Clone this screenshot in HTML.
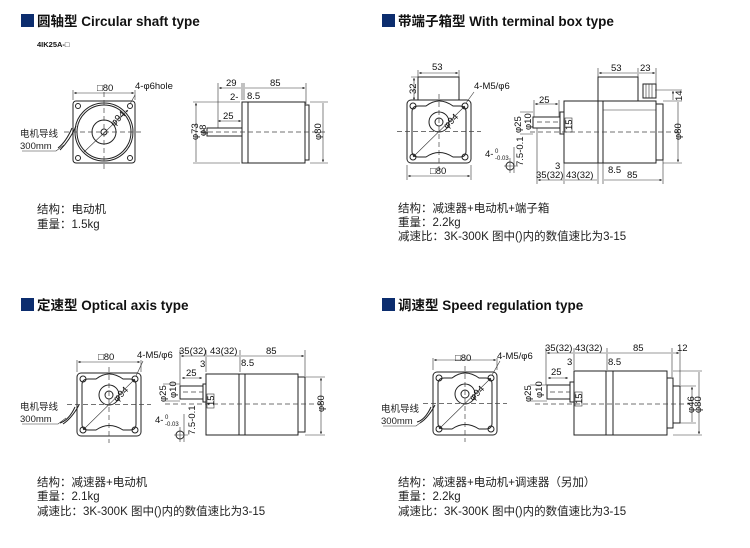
<!DOCTYPE html>
<html><head><meta charset="utf-8"><style>
html,body{margin:0;padding:0;background:#fff;width:750px;height:548px;overflow:hidden}
svg{display:block}
.t{font-family:"Liberation Sans","Noto Sans CJK SC",sans-serif;font-weight:bold;font-size:13.5px;fill:#111}
.d{font-family:"Liberation Sans",sans-serif;font-size:9.5px;fill:#111}
.c{font-family:"Liberation Sans","Noto Sans CJK SC",sans-serif;font-size:11.5px;fill:#222}
.l{stroke:#222;stroke-width:1;fill:none}
.b{stroke:#222;stroke-width:1;fill:#fff}
.th{stroke:#333;stroke-width:0.6;fill:none}
.da{stroke:#444;stroke-width:0.7;stroke-dasharray:5 3;fill:none}
</style></head><body>
<svg width="750" height="548" viewBox="0 0 750 548" xmlns="http://www.w3.org/2000/svg">
<defs>
<marker id="a" viewBox="0 0 6 6" refX="6" refY="3" markerWidth="4" markerHeight="4" orient="auto-start-reverse"><path d="M0,0L6,3L0,6z" fill="#222"/></marker>
<g id="fv">
 <rect x="0" y="0" width="64" height="63" rx="4" class="b" stroke-width="1.3"/>
 <path d="M5,12 Q5,6 11,6 L19,6 Q32,-4 46,6 L53,6 Q59,6 59,12 L59,51 Q59,57 53,57 L46,57 Q32,48 19,57 L11,57 Q5,57 5,51 Z" class="l"/>
 <circle cx="6" cy="6" r="3" class="l"/><circle cx="58" cy="6" r="3" class="l"/>
 <circle cx="6" cy="57" r="3" class="l"/><circle cx="58" cy="57" r="3" class="l"/>
 <circle cx="32" cy="22" r="10" class="l"/><circle cx="32" cy="22" r="4" class="l"/>
 <path d="M6,57 L58,6" class="th" marker-end="url(#a)" marker-start="url(#a)"/>
 <path d="M-10,31.5 H74 M32,-6 V70" class="da"/>
 <text x="37" y="28" class="d" transform="rotate(-45 40 25)">φ94</text>
</g>
</defs>

<rect x="21" y="14" width="13" height="13" fill="#0c2d6e"/>
<text x="37" y="26" class="t">圆轴型 Circular shaft type</text>
<text x="37" y="47" class="t" style="font-size:7.5px">4IK25A-□</text>
<rect x="382" y="14" width="13" height="13" fill="#0c2d6e"/>
<text x="398" y="26" class="t">带端子箱型 With terminal box type</text>
<rect x="21" y="298" width="13" height="13" fill="#0c2d6e"/>
<text x="37" y="310" class="t">定速型 Optical axis type</text>
<rect x="382" y="298" width="13" height="13" fill="#0c2d6e"/>
<text x="398" y="310" class="t">调速型 Speed regulation type</text>

<rect x="73" y="101" width="62" height="62" rx="3" class="b" stroke-width="1.3"/>
<circle cx="104" cy="132" r="29" class="l"/><circle cx="104" cy="132" r="27" class="l"/>
<circle cx="104" cy="132" r="12" class="l"/><circle cx="104" cy="132" r="3" class="l"/>
<circle cx="78" cy="106" r="2.5" class="l"/><circle cx="130" cy="106" r="2.5" class="l"/>
<circle cx="78" cy="158" r="2.5" class="l"/><circle cx="130" cy="158" r="2.5" class="l"/>
<path d="M64,132 H144 M104,92 V172" class="da"/>
<path d="M84,152 L128,110" class="th" marker-end="url(#a)"/>
<text x="110" y="125" class="d" transform="rotate(-45 114 121)">φ94</text>
<path d="M73,90 V100 M135,90 V100" class="th"/>
<path d="M74,93 H134" class="th" marker-end="url(#a)" marker-start="url(#a)"/>
<text x="97" y="91" class="d">□80</text>
<text x="135" y="89" class="d">4-φ6hole</text>
<path d="M135,95 L130,104" class="th"/>
<path d="M76,126 Q70,140 60,150 M72,128 Q66,142 58,148" class="l"/>
<text x="20" y="137" class="c" style="font-size:9.5px">电机导线</text>
<text x="20" y="149" class="c" style="font-size:9.5px">300mm</text>
<path d="M22,151 H56 L64,145" class="th"/>
<rect x="242" y="102" width="6" height="61" class="b"/>
<rect x="248" y="102" width="57" height="61" class="b"/>
<rect x="305" y="105" width="4" height="55" class="b"/>
<rect x="207" y="128" width="35" height="8" class="b"/>
<path d="M200,132 H325" class="da"/>
<path d="M218,83 V128 M242,83 V100 M244,83 V100 M306,83 V104" class="th"/>
<path d="M219,88 H241 M245,88 H305" class="th" marker-end="url(#a)" marker-start="url(#a)"/>
<text x="226" y="86" class="d">29</text><text x="270" y="86" class="d">85</text>
<text x="230" y="100" class="d">2-</text><text x="247" y="99" class="d">8.5</text>
<path d="M218,121 H241" class="th" marker-end="url(#a)" marker-start="url(#a)"/>
<text x="223" y="119" class="d">25</text>
<path d="M193,102 H240 M193,163 H240 M310,102 H328 M310,163 H328" class="th"/>
<path d="M196,103 V162 M323,103 V162" class="th" marker-end="url(#a)" marker-start="url(#a)"/>
<path d="M204,128 V136" class="th"/>
<text x="198" y="140" class="d" transform="rotate(-90 198 140)">φ73</text>
<text x="206" y="136" class="d" transform="rotate(-90 206 136)">φ8</text>
<text x="321" y="140" class="d" transform="rotate(-90 321 140)">φ80</text>
<text x="37" y="213" class="c">结构：电动机</text>
<text x="37" y="228" class="c">重量：1.5kg</text>

<rect x="418" y="77" width="41" height="24" class="b"/>
<use href="#fv" x="407" y="100"/>
<path d="M418,70 V77 M459,70 V77 M411,77 H418" class="th"/>
<path d="M419,73 H458" class="th" marker-end="url(#a)" marker-start="url(#a)"/>
<text x="432" y="70" class="d">53</text>
<path d="M414,78 V100" class="th" marker-end="url(#a)" marker-start="url(#a)"/>
<text x="416" y="94" class="d" transform="rotate(-90 416 94)">32</text>
<text x="474" y="89" class="d">4-M5/φ6</text>
<path d="M474,92 L466,103" class="th"/>
<path d="M407,165 V180 M471,165 V180" class="th"/>
<path d="M408,176 H470" class="th" marker-end="url(#a)" marker-start="url(#a)"/>
<text x="430" y="174" class="d">□80</text>
<text x="485" y="157" class="d">4-</text>
<text x="495" y="153" class="d" style="font-size:6px">0</text>
<text x="495" y="160" class="d" style="font-size:6px">-0.03</text>
<circle cx="510" cy="166" r="4" class="l"/><path d="M504,166 H518 M510,158 V173 M514,147 V173" class="th"/>
<text x="523" y="166" class="d" transform="rotate(-90 523 166)">7.5-0.1</text>
<rect x="598" y="77" width="40" height="24" class="b"/>
<rect x="643" y="84" width="13" height="14" class="b"/>
<path d="M646,84 V98 M649,84 V98 M652,84 V98" class="th"/>
<rect x="564" y="101" width="34" height="62" class="b"/>
<rect x="598" y="101" width="5" height="62" class="b"/>
<rect x="603" y="101" width="53" height="62" class="b"/>
<path d="M603,110 H656" class="th"/>
<rect x="656" y="104" width="7" height="56" class="b"/>
<rect x="560" y="112" width="4" height="22" class="b"/>
<rect x="533" y="117" width="27" height="11" class="b"/>
<path d="M537,122 H560" class="da"/>
<path d="M530,132 H680" class="da"/>
<path d="M598,68 V77 M638,68 V77 M656,68 V84" class="th"/>
<path d="M599,73 H637 M639,73 H655" class="th" marker-end="url(#a)" marker-start="url(#a)"/>
<text x="611" y="71" class="d">53</text><text x="640" y="71" class="d">23</text>
<path d="M535,104 H558" class="th" marker-end="url(#a)" marker-start="url(#a)"/>
<path d="M534,100 V117 M559,100 V117" class="th"/>
<text x="539" y="103" class="d">25</text>
<path d="M655,90 H682 M663,101 H682 M663,163 H682" class="th"/>
<path d="M673,91 V100 M678,102 V162" class="th" marker-end="url(#a)" marker-start="url(#a)"/>
<text x="682" y="101" class="d" transform="rotate(-90 682 101)">14</text>
<text x="681" y="140" class="d" transform="rotate(-90 681 140)">φ80</text>
<rect x="565" y="118" width="7" height="14" class="th"/>
<text x="572" y="130" class="d" transform="rotate(-90 572 130)">15</text>
<path d="M520,112 H533 M520,134 H533" class="th"/>
<text x="521" y="133" class="d" transform="rotate(-90 521 133)">φ25</text>
<text x="531" y="130" class="d" transform="rotate(-90 531 130)">φ10</text>
<path d="M537,128 V184 M564,163 V184 M598,163 V184 M603,163 V184 M663,160 V184" class="th"/>
<path d="M538,180 H563 M565,180 H597 M604,180 H662" class="th" marker-end="url(#a)" marker-start="url(#a)"/>
<text x="536" y="178" class="d">35(32)</text><text x="566" y="178" class="d">43(32)</text><text x="627" y="178" class="d">85</text>
<text x="555" y="169" class="d">3</text><text x="608" y="173" class="d">8.5</text>
<text x="398" y="212" class="c">结构：减速器+电动机+端子箱</text>
<text x="398" y="226" class="c">重量：2.2kg</text>
<text x="398" y="240" class="c">减速比：3K-300K 图中()内的数值速比为3-15</text>

<use href="#fv" x="77" y="373"/>
<path d="M77,360 V372 M141,360 V372" class="th"/>
<path d="M78,362 H140" class="th" marker-end="url(#a)" marker-start="url(#a)"/>
<text x="98" y="360" class="d">□80</text>
<text x="137" y="358" class="d">4-M5/φ6</text>
<path d="M143,361 L136,376" class="th"/>
<path d="M79,405 Q72,418 63,424 M75,407 Q69,420 60,423" class="l"/>
<text x="20" y="410" class="c" style="font-size:9.5px">电机导线</text>
<text x="20" y="422" class="c" style="font-size:9.5px">300mm</text>
<path d="M22,424 H58 L66,418" class="th"/>
<rect x="206" y="374" width="33" height="61" class="b"/>
<rect x="239" y="374" width="6" height="61" class="b"/>
<rect x="245" y="374" width="53" height="61" class="b"/>
<rect x="298" y="377" width="7" height="55" class="b"/>
<rect x="203" y="384" width="3" height="18" class="b"/>
<rect x="180" y="386" width="23" height="13" class="b"/>
<path d="M183,392 H203" class="da"/>
<path d="M165,404 H325" class="da"/>
<path d="M180,350 V386 M206,350 V372 M240,350 V372 M305,350 V376" class="th"/>
<path d="M181,356 H205 M207,356 H239 M241,356 H304" class="th" marker-end="url(#a)" marker-start="url(#a)"/>
<text x="179" y="354" class="d">35(32)</text><text x="210" y="354" class="d">43(32)</text><text x="266" y="354" class="d">85</text>
<text x="200" y="367" class="d">3</text><text x="241" y="366" class="d">8.5</text>
<path d="M182,378 H202" class="th" marker-end="url(#a)" marker-start="url(#a)"/>
<text x="186" y="376" class="d">25</text>
<path d="M163,384 H180 M163,401 H180 M305,377 H325 M305,435 H325" class="th"/>
<text x="166" y="402" class="d" transform="rotate(-90 166 402)">φ25</text>
<text x="176" y="398" class="d" transform="rotate(-90 176 398)">φ10</text>
<rect x="207" y="394" width="7" height="14" class="th"/>
<text x="214" y="406" class="d" transform="rotate(-90 214 406)">15</text>
<path d="M321,378 V434" class="th" marker-end="url(#a)" marker-start="url(#a)"/>
<text x="324" y="412" class="d" transform="rotate(-90 324 412)">φ80</text>
<text x="155" y="423" class="d">4-</text>
<text x="165" y="419" class="d" style="font-size:6px">0</text>
<text x="165" y="426" class="d" style="font-size:6px">-0.03</text>
<circle cx="180" cy="435" r="4" class="l"/><path d="M174,435 H188 M180,427 V442 M184,414 V442" class="th"/>
<text x="195" y="435" class="d" transform="rotate(-90 195 435)">7.5-0.1</text>
<text x="37" y="486" class="c">结构：减速器+电动机</text>
<text x="37" y="500" class="c">重量：2.1kg</text>
<text x="37" y="515" class="c">减速比：3K-300K 图中()内的数值速比为3-15</text>

<use href="#fv" x="433" y="372"/>
<path d="M433,358 V370 M497,358 V370" class="th"/>
<path d="M434,360 H496" class="th" marker-end="url(#a)" marker-start="url(#a)"/>
<text x="455" y="361" class="d">□80</text>
<text x="497" y="359" class="d">4-M5/φ6</text>
<path d="M500,361 L492,375" class="th"/>
<path d="M435,405 Q428,418 420,423 M431,407 Q425,420 417,422" class="l"/>
<text x="381" y="412" class="c" style="font-size:9.5px">电机导线</text>
<text x="381" y="424" class="c" style="font-size:9.5px">300mm</text>
<path d="M383,426 H416 L424,420" class="th"/>
<rect x="574" y="371" width="32" height="64" class="b"/>
<rect x="606" y="371" width="7" height="64" class="b"/>
<rect x="613" y="371" width="54" height="64" class="b"/>
<rect x="667" y="378" width="6" height="50" class="b"/>
<rect x="673" y="386" width="7" height="37" class="b"/>
<rect x="570" y="382" width="4" height="20" class="b"/>
<rect x="547" y="385" width="23" height="14" class="b"/>
<path d="M550,392 H570" class="da"/>
<path d="M535,404 H690" class="da"/>
<path d="M546,348 V385 M574,348 V370 M607,348 V370 M672,348 V377 M680,348 V385" class="th"/>
<path d="M547,353 H573 M575,353 H606 M608,353 H671 M673,353 H679" class="th" marker-end="url(#a)" marker-start="url(#a)"/>
<text x="545" y="351" class="d">35(32)</text><text x="575" y="351" class="d">43(32)</text><text x="633" y="351" class="d">85</text><text x="677" y="351" class="d">12</text>
<text x="567" y="365" class="d">3</text><text x="608" y="365" class="d">8.5</text>
<path d="M548,378 H568" class="th" marker-end="url(#a)" marker-start="url(#a)"/>
<text x="551" y="375" class="d">25</text>
<path d="M530,385 H547 M530,401 H547 M680,386 H696 M680,423 H696 M673,371 H702 M673,435 H702" class="th"/>
<text x="531" y="402" class="d" transform="rotate(-90 531 402)">φ25</text>
<text x="542" y="398" class="d" transform="rotate(-90 542 398)">φ10</text>
<rect x="575" y="392" width="7" height="14" class="th"/>
<text x="582" y="404" class="d" transform="rotate(-90 582 404)">15</text>
<path d="M692,387 V422 M699,372 V434" class="th" marker-end="url(#a)" marker-start="url(#a)"/>
<text x="694" y="413" class="d" transform="rotate(-90 694 413)">φ46</text>
<text x="701" y="413" class="d" transform="rotate(-90 701 413)">φ80</text>
<text x="398" y="486" class="c">结构：减速器+电动机+调速器（另加）</text>
<text x="398" y="500" class="c">重量：2.2kg</text>
<text x="398" y="515" class="c">减速比：3K-300K 图中()内的数值速比为3-15</text>
</svg>
</body></html>
